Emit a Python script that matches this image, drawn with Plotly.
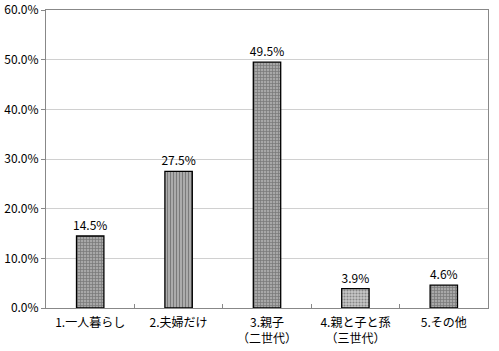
import plotly.graph_objects as go

categories = ["1.一人暮らし", "2.夫婦だけ", "3.親子<br>（二世代）", "4.親と子と孫<br>（三世代）", "5.その他"]
values = [14.5, 27.5, 49.5, 3.9, 4.6]
tick_vals = [0, 10, 20, 30, 40, 50, 60]
tick_text = ["0.0%", "10.0%", "20.0%", "30.0%", "40.0%", "50.0%", "60.0%"]

font = "Noto Sans CJK JP, sans-serif"
shapes = ["+", "|", "+", ".", "+"]
bgs = ["#a8a8a8", "#b0b0b0", "#a8a8a8", "#c8c8c8", "#a8a8a8"]
fgs = ["#505050", "#4a4a4a", "#505050", "#303030", "#505050"]

fig = go.Figure(go.Bar(
    x=categories, y=values, width=0.31,
    marker=dict(color=bgs, line=dict(color="#000000", width=1.3),
                pattern=dict(shape=shapes, fgcolor=fgs, bgcolor=bgs, size=3, solidity=0.4)),
    text=[f"{v:.1f}%" for v in values], textposition="outside",
    constraintext="none",
    textfont=dict(family=font, size=12, color="#000000"), cliponaxis=False,
))
fig.update_layout(
    width=499, height=351, margin=dict(l=46, r=11, t=10, b=43),
    paper_bgcolor="white", plot_bgcolor="white", showlegend=False,
    font=dict(family=font, size=12, color="#000000"), bargap=0.69,
    uniformtext=dict(minsize=12, mode="show"),
)
fig.update_yaxes(range=[0, 60], tickvals=tick_vals, ticktext=tick_text,
                 showgrid=True, gridcolor="#d0d0d0", gridwidth=1,
                 showline=True, linecolor="#888888", mirror=True,
                 ticks="outside", ticklen=4, tickcolor="#888888", zeroline=False,
                 automargin=False,
                 tickfont=dict(family=font, size=12))
fig.update_xaxes(showline=True, linecolor="#888888", mirror=True,
                 tickson="boundaries", ticks="inside", ticklen=4, tickcolor="#888888",
                 ticklabelstandoff=4, automargin=False,
                 tickfont=dict(family=font, size=12))
fig.write_html("out.html")
